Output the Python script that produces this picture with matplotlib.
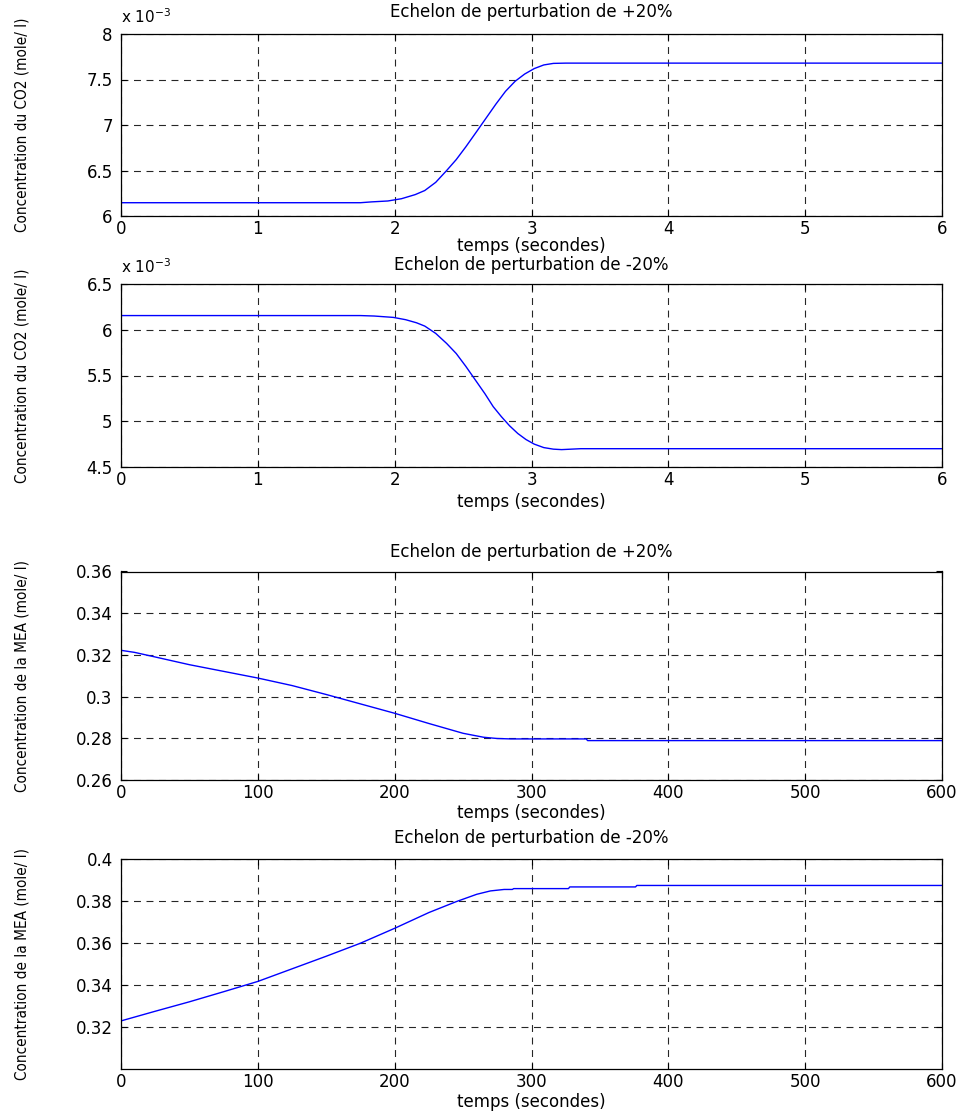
import matplotlib
matplotlib.use("Agg")
import matplotlib.pyplot as plt
from matplotlib.ticker import FormatStrFormatter

# ---------------- data ----------------
# Panel 1: CO2, +20% step (units of 1e-3 mole/l)
t1 = [0.0, 1.75, 1.83, 1.95, 2.05, 2.15, 2.22, 2.30, 2.38, 2.45, 2.52, 2.60, 2.67, 2.74, 2.81,
      2.88, 2.95, 3.02, 3.09, 3.16, 3.25, 6.0]
c1 = [6.146, 6.146, 6.155, 6.165, 6.19, 6.235, 6.28, 6.37, 6.50, 6.62, 6.76, 6.93, 7.08, 7.23, 7.37,
      7.48, 7.56, 7.62, 7.66, 7.677, 7.68, 7.68]

# Panel 2: CO2, -20% step (units of 1e-3 mole/l)
t2 = [0.0, 1.75, 1.85, 1.99, 2.08, 2.16, 2.22, 2.30, 2.38, 2.45, 2.52, 2.59, 2.66, 2.72, 2.78,
      2.84, 2.90, 2.96, 3.02, 3.09, 3.16, 3.22, 3.36, 6.0]
c2 = [6.155, 6.155, 6.15, 6.135, 6.11, 6.076, 6.04, 5.96, 5.85, 5.74, 5.60, 5.45, 5.30, 5.16, 5.05,
      4.95, 4.866, 4.80, 4.75, 4.712, 4.695, 4.69, 4.70, 4.70]

# Panel 3: MEA, +20% step (mole/l)
t3 = [0, 10, 25, 50, 75, 100, 125, 150, 175, 200, 225, 250, 265, 275, 285, 340, 341, 600]
c3 = [0.3222, 0.3212, 0.3190, 0.3153, 0.3121, 0.3089, 0.3053, 0.3010, 0.2965, 0.2920, 0.2871,
      0.2824, 0.2805, 0.2799, 0.2797, 0.2797, 0.2789, 0.2789]

# Panel 4: MEA, -20% step (mole/l)
t4 = [0, 25, 50, 75, 100, 125, 150, 175, 200, 225, 245, 260, 270, 280, 286, 287, 327, 328, 376, 377, 600]
c4 = [0.3229, 0.3275, 0.3320, 0.3368, 0.3417, 0.3477, 0.3537, 0.3599, 0.3670, 0.3745, 0.3797,
      0.3832, 0.3848, 0.3855, 0.3855, 0.3859, 0.3859, 0.3867, 0.3867, 0.3874, 0.3874]

titles = ["Echelon de perturbation de +20%", "Echelon de perturbation de -20%",
          "Echelon de perturbation de +20%", "Echelon de perturbation de -20%"]
xlabel = "temps (secondes)"
ylabel_co2 = "Concentration du CO2 (mole/ l)"
ylabel_mea = "Concentration de la MEA (mole/ l)"

xticks_co2 = [0, 1, 2, 3, 4, 5, 6]
xticks_mea = [0, 100, 200, 300, 400, 500, 600]
yticks1 = [6, 6.5, 7, 7.5, 8]
yticks2 = [4.5, 5, 5.5, 6, 6.5]
yticks3 = [0.26, 0.28, 0.30, 0.32, 0.34, 0.36]
yticks4 = [0.32, 0.34, 0.36, 0.38, 0.40]

# ---------------- figure ----------------
W, H = 967, 1120
plt.rcParams['font.family'] = ['DejaVu Sans']
plt.rcParams['lines.scale_dashes'] = False
fig = plt.figure(figsize=(W / 100, H / 100), dpi=100)

def px_axes(top, bottom, left=121, right=942):
    return [left / W, 1 - bottom / H, (right - left) / W, (bottom - top) / H]

specs = [
    dict(pos=px_axes(34, 216), t=t1, c=c1, xt=xticks_co2, yt=yticks1, xl=(0, 6), yl=(6, 8),
         title_y=12, xlab_y=246, ylab=ylabel_co2, offset=True),
    dict(pos=px_axes(284, 467), t=t2, c=c2, xt=xticks_co2, yt=yticks2, xl=(0, 6), yl=(4.5, 6.5),
         title_y=265, xlab_y=502, ylab=ylabel_co2, offset=True),
    dict(pos=px_axes(571.5, 780), t=t3, c=c3, xt=xticks_mea, yt=yticks3, xl=(0, 600), yl=(0.26, 0.36),
         title_y=552, xlab_y=813, ylab=ylabel_mea, offset=False),
    dict(pos=px_axes(859, 1069), t=t4, c=c4, xt=xticks_mea, yt=yticks4, xl=(0, 600), yl=(0.30, 0.40),
         title_y=838, xlab_y=1102, ylab=ylabel_mea, offset=False),
]

fs = 12
for i, s in enumerate(specs):
    ax = fig.add_axes(s['pos'])
    ax.plot(s['t'], s['c'], color='#0000ff', lw=1.0)
    ax.set_xlim(*s['xl'])
    ax.set_ylim(*s['yl'])
    ax.set_xticks(s['xt'])
    ax.set_yticks(s['yt'])
    ax.yaxis.set_major_formatter(FormatStrFormatter('%g'))
    ax.xaxis.set_major_formatter(FormatStrFormatter('%g'))
    ax.tick_params(direction='in', length=4, width=0.8, labelsize=fs,
                   top=True, right=True, pad=3)
    ax.tick_params(axis='y', pad=6)
    ax.grid(True, color='0.15', lw=0.8, linestyle=(0, (5, 4)))
    for sp in ax.spines.values():
        sp.set_linewidth(0.9)
        sp.set_color('black')
    top_px = (1 - s['pos'][1] - s['pos'][3]) * H
    bot_px = (1 - s['pos'][1]) * H
    hpx = bot_px - top_px
    ax.text(0.5, 1 + (top_px - s['title_y']) / hpx, titles[i], transform=ax.transAxes,
            ha='center', va='center', fontsize=fs)
    ax.text(0.5, -(s['xlab_y'] - bot_px) / hpx, xlabel, transform=ax.transAxes,
            ha='center', va='center', fontsize=fs)
    if s['offset']:
        ax.text(0.0, 1 + 17 / hpx, r'x 10$^{-3}$', transform=ax.transAxes,
                ha='left', va='center', fontsize=fs - 1)
    yc = 1 - (top_px + bot_px) / 2 / H
    fig.text(22 / W, yc, s['ylab'], rotation=90, ha='center', va='center',
             fontsize=11, fontstretch='condensed')

fig.savefig('out.png', dpi=100)
